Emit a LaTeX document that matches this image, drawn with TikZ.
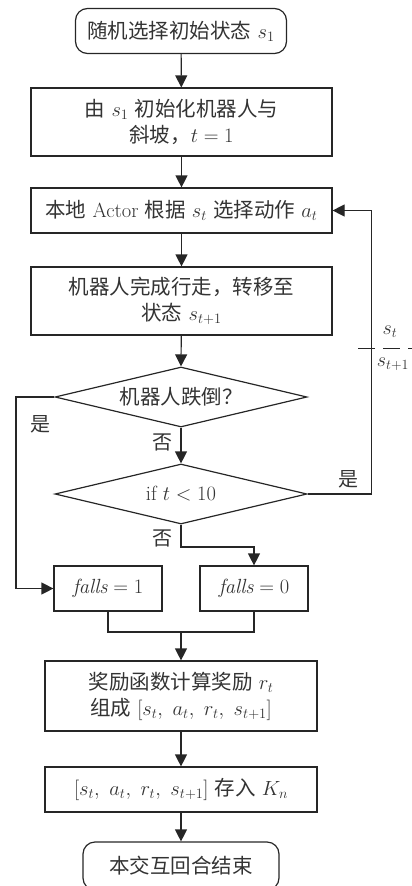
\documentclass[tikz,border=0pt]{standalone}
\usepackage{fix-cm}
\usepackage{fontspec}
\newfontfamily\cjk{Noto Sans CJK SC}
\usetikzlibrary{shapes.geometric,arrows.meta}
\newcommand{\zh}[1]{{\cjk #1}}
\tikzset{
  base/.style={draw=black!85, line width=1.2pt, inner sep=0pt, align=center, font=\fontsize{20.5}{26}\selectfont, text=black!80},
  boxnode/.style={base, rectangle},
  termnode/.style={base, rectangle, rounded corners=12pt},
  decnode/.style={base, diamond, shape aspect=4.2, minimum width=252pt, minimum height=60pt},
  conn/.style={line width=1.2pt, draw=black!85},
  arr/.style={conn, -{Triangle[length=12pt,width=12pt]}},
  lbl/.style={font=\fontsize{20}{24}\selectfont, text=black!80, inner sep=0pt}
}
\begin{document}
\begin{tikzpicture}[x=1pt,y=-1pt]
\useasboundingbox (0,0) rectangle (412,886);
\node[termnode, minimum width=211pt, minimum height=45pt] (start) at (181,31) {\zh{随机选择初始状态}\ $s_1$};
\node[boxnode, minimum width=301pt, minimum height=68pt] (init) at (181.5,122) {\zh{由} $s_1$ \zh{初始化机器人与}\\\zh{斜坡，}$t=1$};
\node[boxnode, minimum width=301pt, minimum height=45pt] (act) at (181.5,210.5) {\zh{本地} Actor \zh{根据} $s_t$ \zh{选择动作} $a_t$};
\node[boxnode, minimum width=301pt, minimum height=68pt] (walk) at (181.5,301) {\zh{机器人完成行走，转移至}\\\zh{状态} $s_{t+1}$};
\node[decnode] (d1) at (181,397) {\zh{机器人跌倒？}};
\node[decnode] (d2) at (181,494) {if $t<10$};
\node[boxnode, minimum width=108pt, minimum height=45pt] (f1) at (108,588.5) {$\mathit{falls}=1$};
\node[boxnode, minimum width=108pt, minimum height=45pt] (f0) at (254,588.5) {$\mathit{falls}=0$};
\node[boxnode, minimum width=272pt, minimum height=70pt] (rew) at (181,696) {\zh{奖励函数计算奖励} $r_t$\\\zh{组成} $[s_t,\ a_t,\ r_t,\ s_{t+1}]$};
\node[boxnode, minimum width=272pt, minimum height=45pt] (store) at (181,789.5) {$[s_t,\ a_t,\ r_t,\ s_{t+1}]$ \zh{存入} $K_n$};
\node[termnode, minimum width=196pt, minimum height=48pt] (end) at (181,866) {\zh{本交互回合结束}};

\coordinate (L) at (16,397);
\coordinate (R) at (371.5,494);
\coordinate (B) at (181,547);
\coordinate (M) at (181,632);
\coordinate (T1) at (358,348.3);
\coordinate (T2) at (412,348.3);

\draw[arr] (start) -- (init);
\draw[arr] (init) -- (act);
\draw[arr] (act) -- (walk);
\draw[arr] (walk) -- (d1.north);
\draw[arr] (d1.south) -- (d2.north);
\draw[arr] (d1.west) -- (L) |- (f1.west);
\draw[arr] (d2.east) -- (R) |- (act.east);
\draw[arr] (d2.south) -- (B) -| (f0.north);
\draw[conn] (f1.south) |- (M) -| (f0.south);
\draw[arr] (M) -- (rew.north);
\draw[arr] (rew) -- (store);
\draw[arr] (store) -- (end);

\draw[conn, dash pattern=on 17pt off 8pt] (T1) -- (T2);
\node[lbl] (st) at (390,332) {$s_t$};
\node[lbl] (st1) at (393,364) {$s_{t+1}$};

\node[lbl] (yes1) at (40,424) {\zh{是}};
\node[lbl] (no1) at (162,442) {\zh{否}};
\node[lbl] (yes2) at (348,479) {\zh{是}};
\node[lbl] (no2) at (162,538) {\zh{否}};
\end{tikzpicture}
\end{document}
